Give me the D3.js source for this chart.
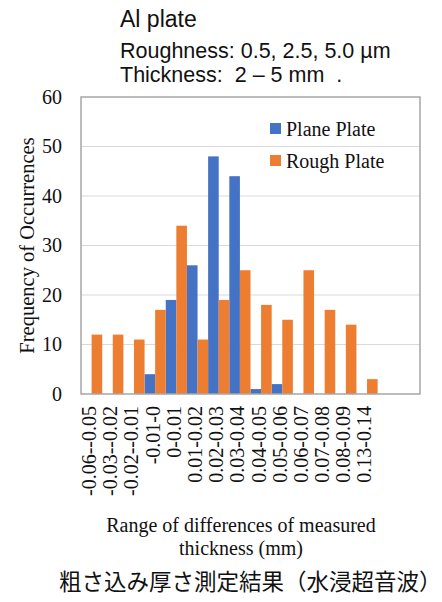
<!DOCTYPE html>
<html>
<head>
<meta charset="utf-8">
<script src="https://cdn.jsdelivr.net/npm/d3@7"></script>
<style>
  body { margin: 0; background: #fff; }
  svg { display: block; }
  text { white-space: pre; }
</style>
</head>
<body>
<svg id="chart"></svg>
<script>
// categories (last two bins are empty in the source chart)
const categories = ['-0.06--0.05', '-0.03--0.02', '-0.02--0.01', '-0.01-0', '0-0.01',
    '0.01-0.02', '0.02-0.03', '0.03-0.04', '0.04-0.05', '0.05-0.06', '0.06-0.07',
    '0.07-0.08', '0.08-0.09', '0.13-0.14', '', ''];
const planePlate = [0, 0, 0, 4, 19, 26, 48, 44, 1, 2, 0, 0, 0, 0, 0, 0];
const roughPlate = [12, 12, 11, 17, 34, 11, 19, 25, 18, 15, 25, 17, 14, 3, 0, 0];
const yTicks = [0, 10, 20, 30, 40, 50, 60];
const seriesNames = ['Plane Plate', 'Rough Plate'];

class Histo {

    constructor(_config) {
        this.config = {
            parentElement: _config.parentElement,
            containerWidth: 442,
            containerHeight: 602,
            margin: { top: 97, bottom: 208, right: 22, left: 81 },
            colors: ['#4472C4', '#ED7D31']
        }
        this.initVis();
    }

    initVis() {
        let vis = this;

        vis.width = vis.config.containerWidth - vis.config.margin.left - vis.config.margin.right;
        vis.height = vis.config.containerHeight - vis.config.margin.top - vis.config.margin.bottom;

        vis.svg = d3.select(vis.config.parentElement)
            .attr('width', vis.config.containerWidth)
            .attr('height', vis.config.containerHeight);

        vis.chart = vis.svg.append('g')
            .attr('transform', `translate(${vis.config.margin.left},${vis.config.margin.top})`);

        vis.xScale = d3.scaleBand()
            .domain(d3.range(categories.length))
            .range([0, vis.width])
            .padding(0);

        vis.xInner = d3.scaleBand()
            .domain([0, 1])
            .range([0, vis.xScale.bandwidth()]);

        vis.yScale = d3.scaleLinear()
            .domain([0, 60])
            .range([vis.height, 0]);

        vis.renderVis();
    }

    renderVis() {
        let vis = this;
        const serif = '"Liberation Serif", "Times New Roman", serif';
        const sans = '"Liberation Sans", Arial, sans-serif';

        // gridlines
        vis.chart.append('g')
            .selectAll('line')
            .data(yTicks.slice(1, -1))
            .join('line')
                .attr('x1', 0).attr('x2', vis.width)
                .attr('y1', d => vis.yScale(d)).attr('y2', d => vis.yScale(d))
                .attr('stroke', '#d9d9d9')
                .attr('stroke-width', 1.2);

        // bars
        const series = [planePlate, roughPlate];
        series.forEach((vals, s) => {
            vis.chart.append('g')
                .selectAll('rect')
                .data(vals)
                .join('rect')
                    .attr('x', (d, i) => vis.xScale(i) + vis.xInner(s))
                    .attr('width', vis.xInner.bandwidth())
                    .attr('y', d => vis.yScale(d))
                    .attr('height', d => vis.height - vis.yScale(d))
                    .attr('fill', vis.config.colors[s]);
        });

        // frame
        vis.chart.append('rect')
            .attr('x', 0).attr('y', 0)
            .attr('width', vis.width).attr('height', vis.height)
            .attr('fill', 'none')
            .attr('stroke', '#a6a6a6')
            .attr('stroke-width', 1.5);

        // y axis
        vis.yAxis = d3.axisLeft(vis.yScale).tickValues(yTicks).tickSize(0).tickPadding(19);
        vis.yAxisGroup = vis.chart.append('g').call(vis.yAxis);
        vis.yAxisGroup.select('.domain').remove();
        vis.yAxisGroup.selectAll('text')
            .attr('font-family', serif)
            .attr('font-size', 20)
            .attr('fill', '#111')
            .attr('dy', '0.32em');

        // x axis
        vis.xAxis = d3.axisBottom(vis.xScale).tickFormat(i => categories[i]).tickSize(0);
        vis.xAxisGroup = vis.chart.append('g')
            .attr('transform', `translate(0,${vis.height})`)
            .call(vis.xAxis);
        vis.xAxisGroup.select('.domain').remove();
        vis.xAxisGroup.selectAll('text')
            .attr('font-family', serif)
            .attr('font-size', 20)
            .attr('fill', '#111')
            .attr('text-anchor', 'end')
            .attr('transform', 'rotate(-90)')
            .attr('x', -12)
            .attr('y', 0)
            .attr('dy', '0.22em');

        // legend
        const legend = vis.chart.append('g')
            .attr('transform', 'translate(189,26)');
        seriesNames.forEach((name, s) => {
            const g = legend.append('g').attr('transform', `translate(0,${s * 32})`);
            g.append('rect')
                .attr('width', 11).attr('height', 11)
                .attr('fill', vis.config.colors[s]);
            g.append('text')
                .attr('x', 16).attr('y', 13)
                .attr('font-family', serif)
                .attr('font-size', 20)
                .attr('fill', '#111')
                .text(name);
        });

        // axis titles
        vis.svg.append('text')
            .attr('transform', `translate(34,${vis.config.margin.top + vis.height / 2}) rotate(-90)`)
            .attr('text-anchor', 'middle')
            .attr('font-family', serif)
            .attr('font-size', 20.5)
            .attr('fill', '#111')
            .text('Frequency of Occurrences');

        vis.svg.append('text')
            .attr('x', 241).attr('y', 532)
            .attr('text-anchor', 'middle')
            .attr('font-family', serif)
            .attr('font-size', 20)
            .attr('fill', '#111')
            .text('Range of differences of measured');
        vis.svg.append('text')
            .attr('x', 241).attr('y', 555)
            .attr('text-anchor', 'middle')
            .attr('font-family', serif)
            .attr('font-size', 20)
            .attr('fill', '#111')
            .text('thickness (mm)');

        // header notes
        const head = [
            { t: 'Al plate', y: 27, s: 23 },
            { t: 'Roughness: 0.5, 2.5, 5.0 µm', y: 58, s: 21.5 },
            { t: 'Thickness:  2 – 5 mm  .', y: 82, s: 21.5 }
        ];
        vis.svg.append('g')
            .selectAll('text')
            .data(head)
            .join('text')
                .attr('x', 120)
                .attr('y', d => d.y)
                .attr('font-family', sans)
                .attr('font-size', d => d.s)
                .attr('fill', '#111')
                .text(d => d.t);

        // caption
        vis.svg.append('text')
            .attr('x', 59).attr('y', 590)
            .attr('font-family', '"Noto Sans CJK JP", sans-serif')
            .attr('font-size', 22.5)
            .attr('fill', '#111')
            .text('粗さ込み厚さ測定結果（水浸超音波）');
    }
}

new Histo({ parentElement: '#chart' });
</script>
</body>
</html>
